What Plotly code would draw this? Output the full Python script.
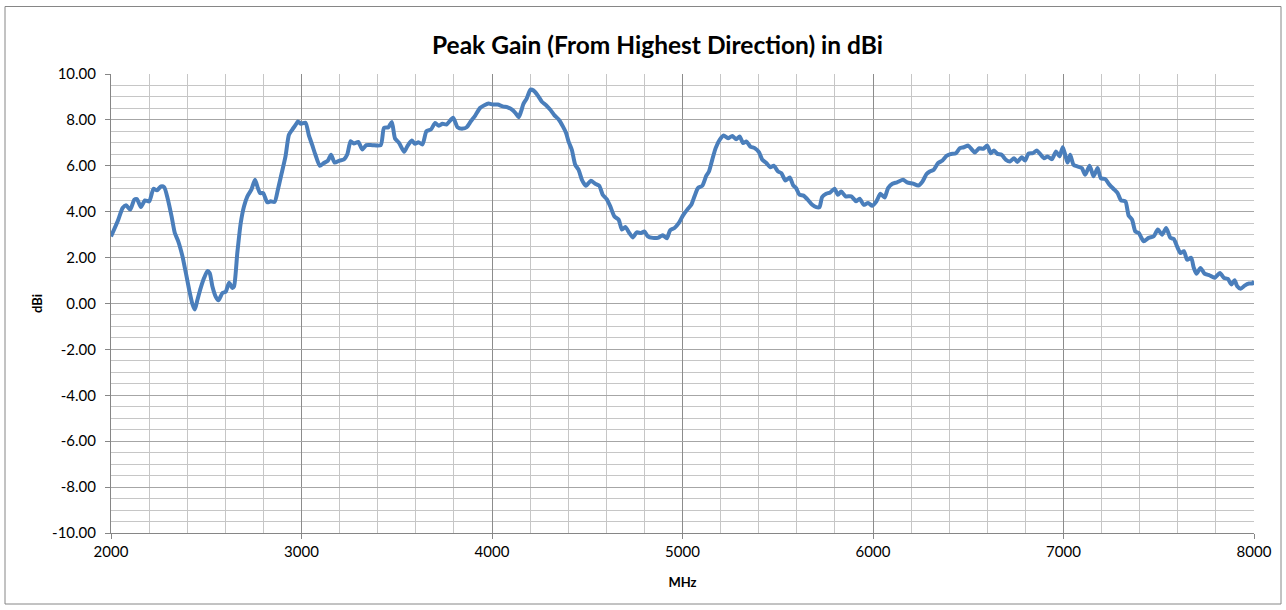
import plotly.graph_objects as go

freq_mhz = [
    2000, 2035, 2061, 2079, 2101, 2122, 2136, 2157, 2178, 2201, 2223, 2241, 2262, 2279, 2297,
    2318, 2335, 2353, 2375, 2393, 2410, 2428, 2440, 2454, 2471, 2489, 2506, 2518, 2532, 2550,
    2564, 2585, 2602, 2620, 2637, 2646, 2663, 2681, 2698, 2716, 2737, 2756, 2771, 2782, 2799,
    2820, 2838, 2859, 2876, 2894, 2916, 2934, 2951, 2969, 2981, 2998, 3021, 3038, 3056, 3073,
    3096, 3117, 3138, 3155, 3174, 3200, 3223, 3240, 3258, 3275, 3298, 3319, 3340, 3372, 3416,
    3433, 3456, 3474, 3491, 3512, 3539, 3556, 3579, 3596, 3614, 3635, 3656, 3679, 3702, 3719,
    3740, 3761, 3796, 3819, 3846, 3867, 3889, 3912, 3937, 3960, 3982, 4004, 4030, 4056, 4082,
    4105, 4123, 4140, 4153, 4165, 4182, 4202, 4218, 4240, 4263, 4284, 4305, 4328, 4351, 4372,
    4389, 4402, 4419, 4437, 4454, 4472, 4493, 4519, 4542, 4563, 4581, 4602, 4621, 4642, 4665,
    4682, 4700, 4721, 4739, 4760, 4782, 4800, 4818, 4844, 4870, 4896, 4918, 4935, 4958, 4981,
    5002, 5025, 5046, 5063, 5081, 5104, 5125, 5139, 5156, 5174, 5195, 5216, 5239, 5261, 5282,
    5300, 5318, 5335, 5356, 5379, 5402, 5419, 5440, 5461, 5479, 5502, 5519, 5540, 5563, 5581,
    5596, 5614, 5635, 5658, 5681, 5702, 5719, 5733, 5754, 5775, 5798, 5816, 5833, 5856, 5886,
    5912, 5930, 5951, 5974, 5996, 6018, 6039, 6061, 6079, 6102, 6126, 6158, 6179, 6211, 6237,
    6260, 6281, 6298, 6319, 6342, 6365, 6386, 6407, 6435, 6456, 6477, 6500, 6518, 6535, 6558,
    6579, 6600, 6618, 6635, 6653, 6675, 6698, 6719, 6740, 6758, 6781, 6798, 6816, 6839, 6860,
    6877, 6898, 6916, 6939, 6961, 6979, 6996, 7009, 7021, 7035, 7053, 7074, 7096, 7114, 7137,
    7158, 7179, 7196, 7219, 7242, 7267, 7284, 7302, 7325, 7342, 7360, 7377, 7395, 7421, 7447,
    7474, 7495, 7518, 7539, 7561, 7579, 7596, 7614, 7632, 7649, 7670, 7684, 7698, 7719, 7740,
    7768, 7793, 7821, 7842, 7863, 7881, 7898, 7912, 7930, 7951, 7974, 7991, 8000,
]

peak_gain_dbi = [
    2.92, 3.58, 4.16, 4.28, 4.09, 4.52, 4.55, 4.20, 4.49, 4.45, 5.00, 4.93, 5.10, 5.07, 4.59,
    3.80, 3.07, 2.71, 2.06, 1.33, 0.61, -0.04, -0.26, 0.17, 0.68, 1.12, 1.41, 1.33, 0.75, 0.29,
    0.14, 0.46, 0.51, 0.90, 0.68, 0.75, 2.20, 3.51, 4.23, 4.67, 4.96, 5.39, 5.03, 4.81, 4.81,
    4.41, 4.45, 4.43, 4.96, 5.61, 6.41, 7.35, 7.57, 7.78, 7.93, 7.83, 7.88, 7.35, 6.91, 6.48,
    6.00, 6.12, 6.22, 6.48, 6.14, 6.23, 6.28, 6.49, 7.07, 6.97, 7.04, 6.71, 6.90, 6.90, 6.90,
    7.65, 7.68, 7.91, 7.19, 7.00, 6.61, 6.86, 7.10, 6.96, 7.03, 6.93, 7.51, 7.58, 7.87, 7.75,
    7.83, 7.80, 8.09, 7.68, 7.62, 7.68, 7.94, 8.19, 8.52, 8.64, 8.71, 8.67, 8.67, 8.59, 8.55,
    8.45, 8.30, 8.12, 8.38, 8.70, 8.93, 9.32, 9.28, 9.07, 8.78, 8.64, 8.45, 8.20, 8.01, 7.72,
    7.43, 7.05, 6.70, 6.04, 5.83, 5.39, 5.13, 5.35, 5.22, 5.13, 4.74, 4.55, 4.23, 3.80, 3.65,
    3.22, 3.33, 3.07, 2.88, 3.10, 3.07, 3.14, 2.93, 2.86, 2.86, 2.97, 2.84, 3.19, 3.29, 3.51,
    3.83, 4.09, 4.30, 4.67, 5.03, 5.13, 5.57, 5.75, 6.26, 6.77, 7.13, 7.32, 7.20, 7.30, 7.16,
    7.28, 6.99, 7.06, 6.84, 6.77, 6.58, 6.26, 6.12, 5.94, 6.00, 5.75, 5.68, 5.36, 5.49, 5.15,
    5.03, 4.74, 4.70, 4.52, 4.30, 4.20, 4.20, 4.64, 4.78, 4.84, 5.00, 4.74, 4.88, 4.67, 4.67,
    4.45, 4.57, 4.30, 4.38, 4.26, 4.45, 4.78, 4.62, 5.03, 5.22, 5.28, 5.39, 5.28, 5.22, 5.14,
    5.32, 5.64, 5.75, 5.83, 6.12, 6.23, 6.43, 6.51, 6.55, 6.77, 6.81, 6.88, 6.72, 6.58, 6.77,
    6.74, 6.88, 6.55, 6.67, 6.52, 6.48, 6.26, 6.19, 6.33, 6.17, 6.37, 6.23, 6.53, 6.55, 6.67,
    6.52, 6.33, 6.41, 6.29, 6.62, 6.41, 6.81, 6.48, 6.14, 6.48, 6.04, 5.97, 5.90, 5.61, 6.00,
    5.54, 5.90, 5.46, 5.42, 5.17, 4.96, 4.81, 4.49, 4.45, 3.83, 3.65, 3.14, 3.07, 2.71, 2.86,
    2.93, 3.22, 3.00, 3.29, 2.86, 2.81, 2.49, 2.20, 2.28, 1.91, 1.99, 1.55, 1.30, 1.55, 1.30,
    1.22, 1.12, 1.33, 1.12, 1.07, 0.83, 1.01, 0.75, 0.64, 0.78, 0.87, 0.87, 0.97,
]

x_tick_vals = [2000, 3000, 4000, 5000, 6000, 7000, 8000]
x_tick_labels = ["2000", "3000", "4000", "5000", "6000", "7000", "8000"]
y_tick_vals = [10, 8, 6, 4, 2, 0, -2, -4, -6, -8, -10]
y_tick_labels = ["10.00", "8.00", "6.00", "4.00", "2.00", "0.00", "-2.00", "-4.00",
                 "-6.00", "-8.00", "-10.00"]

title_text = "Peak Gain (From Highest Direction) in dBi"
x_title = "MHz"
y_title = "dBi"

FONT = "Lato, 'Open Sans', sans-serif"

fig = go.Figure()
fig.add_trace(go.Scatter(
    x=freq_mhz, y=peak_gain_dbi, mode="lines",
    line=dict(color="#4a7ebb", width=4, shape="spline", smoothing=0.6),
    showlegend=False, hoverinfo="x+y",
))

L, R, T, B = 111, 32, 74, 77
W, H = 1286, 610
pw, ph = W - L - R, H - T - B

fig.update_layout(
    width=W, height=H,
    margin=dict(l=L, r=R, t=T, b=B, pad=0),
    paper_bgcolor="white", plot_bgcolor="white",
    font=dict(family=FONT, color="#000000"),
    title=dict(
        text=f"<b>{title_text}</b>",
        font=dict(size=24.5, family=FONT, color="#000000"),
        x=657.5 / W, xanchor="center", xref="container",
        y=1 - 45 / H, yanchor="middle", yref="container",
    ),
    xaxis=dict(
        range=[2000, 8000],
        tickvals=x_tick_vals, ticktext=x_tick_labels,
        showgrid=True, gridcolor="#8c8c8c", gridwidth=1,
        minor=dict(dtick=200, showgrid=True, gridcolor="#c6c6c6", gridwidth=1,
                   ticks=""),
        showline=True, linecolor="#868686", linewidth=1,
        ticks="outside", ticklen=5, tickcolor="#868686",
        tickfont=dict(size=15, family=FONT, color="#000000"),
        title=dict(text=f"<b>{x_title}</b>", font=dict(size=13, family=FONT),
                   standoff=18),
        zeroline=False, fixedrange=True,
    ),
    yaxis=dict(
        range=[-10, 10],
        tickvals=y_tick_vals, ticktext=y_tick_labels,
        showgrid=True, gridcolor="#a6a6a6", gridwidth=1,
        minor=dict(dtick=0.5, showgrid=True, gridcolor="#c6c6c6", gridwidth=1,
                   ticks=""),
        showline=True, linecolor="#868686", linewidth=1,
        ticks="outside", ticklen=5, tickcolor="#868686",
        ticklabelstandoff=6,
        tickfont=dict(size=15, family=FONT, color="#000000"),
        title=dict(text=f"<b>{y_title}</b>", font=dict(size=13, family=FONT),
                   standoff=6),
        zeroline=False, fixedrange=True,
    ),
    shapes=[dict(
        type="rect", xref="paper", yref="paper",
        x0=(5 - L) / pw, x1=(1281 - L) / pw,
        y0=(H - B - 604) / ph, y1=(H - B - 6.5) / ph,
        line=dict(color="#868686", width=1), fillcolor="rgba(0,0,0,0)",
        layer="below",
    )],
)

fig.write_html(
    "out.html",
    config={"displayModeBar": False},
    post_script="document.body.style.margin='0';document.body.style.overflow='hidden';",
)
